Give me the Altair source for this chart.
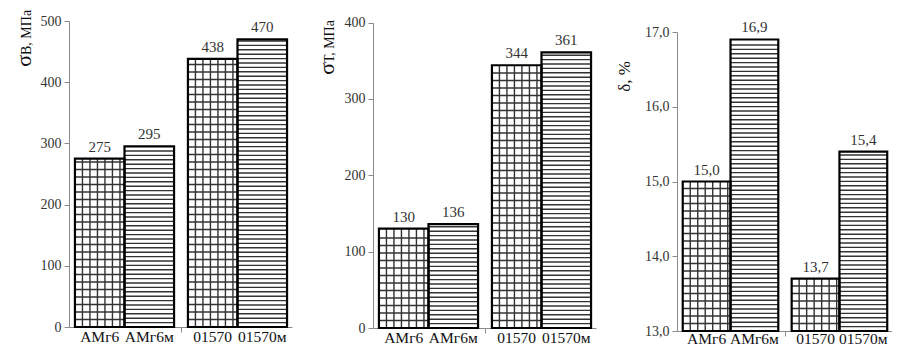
import altair as alt
import pandas as pd
import numpy as np

categories = ["АМг6", "АМг6м", "01570", "01570м"]
patterns = ["grid", "lines", "grid", "lines"]
sigma_b = [275, 295, 438, 470]
sigma_t = [130, 136, 344, 361]
delta = [15.0, 16.9, 13.7, 15.4]

FONT = "Liberation Serif, Times New Roman, DejaVu Serif, serif"
AXIS_GREY = "#8a8a8a"
LEAD, GAP, TAIL = 0.12, 0.28, 0.1
XMAX = 4 + LEAD + GAP + TAIL


def comma1(v):
    return f"{v:.1f}".replace(".", ",")


def make_panel(values, ymin, ymax, ystep, width, height, top, fmt, label_expr,
               title_parts, title_x, title_anchor, cat_dy):
    starts = [i + LEAD + (GAP if i >= 2 else 0) for i in range(4)]
    bars = pd.DataFrame({
        "cat": categories, "value": values, "pattern": patterns,
        "x0": starts, "x1": [s + 1 for s in starts],
        "mid": [s + 0.5 for s in starts],
        "base": [ymin] * 4,
        "label": [fmt(v) for v in values],
    })
    px_y = (height - top) / (ymax - ymin)
    px_x = width / XMAX
    rows = []
    for s, v, p in zip(starts, values, patterns):
        hs = (7.5 if p == "grid" else 4.4) / px_y
        for yy in np.arange(ymin + hs, v - hs * 0.3, hs):
            rows.append(dict(x0=s, x1=s + 1, y0=yy, y1=yy))
        if p == "grid":
            vs = 7.5 / px_x
            for xx in np.arange(s + vs, s + 1 - vs * 0.3, vs):
                rows.append(dict(x0=xx, x1=xx, y0=ymin, y1=v))
    hatch = pd.DataFrame(rows)

    gap_mid = (starts[1] + 1 + starts[2]) / 2
    xscale = alt.Scale(domain=[0, XMAX], nice=False, zero=False)
    yscale = alt.Scale(domain=[ymin, ymax], nice=False, zero=False,
                       range=[height, top])
    xaxis = alt.Axis(values=[gap_mid], labels=False, title=None, grid=False,
                     domainColor=AXIS_GREY, tickColor=AXIS_GREY, tickSize=5)
    yaxis = alt.Axis(values=list(np.arange(ymin, ymax + ystep / 2, ystep)),
                     labelExpr=label_expr, title=None, grid=False,
                     domainColor=AXIS_GREY, tickColor=AXIS_GREY, tickSize=5,
                     labelFont=FONT, labelFontSize=14, labelColor="#333333",
                     labelPadding=3)

    base = alt.Chart(bars)
    fill = base.mark_rect(fill="white").encode(
        x=alt.X("x0:Q", scale=xscale, axis=xaxis), x2="x1:Q",
        y=alt.Y("base:Q", scale=yscale, axis=yaxis), y2="value:Q")
    lines = alt.Chart(hatch).mark_rule(color="#333333", strokeWidth=1.4).encode(
        x=alt.X("x0:Q", scale=xscale), x2="x1:Q",
        y=alt.Y("y0:Q", scale=yscale), y2="y1:Q")
    outline = base.mark_rect(fill="transparent", stroke="black", strokeWidth=2.2).encode(
        x=alt.X("x0:Q", scale=xscale), x2="x1:Q",
        y=alt.Y("base:Q", scale=yscale), y2="value:Q")
    vlabels = base.mark_text(font=FONT, fontSize=15, color="#333333",
                             baseline="bottom", dy=-4).encode(
        x=alt.X("mid:Q", scale=xscale), y=alt.Y("value:Q", scale=yscale),
        text="label:N")
    clabels = base.mark_text(font=FONT, fontSize=15.5, color="#111111",
                             baseline="top").encode(
        x=alt.X("mid:Q", scale=xscale), y=alt.value(height + cat_dy),
        text="cat:N")
    layers = [fill, lines, outline, vlabels, clabels]
    (t1, s1), (t2, s2) = title_parts
    layers.append(alt.Chart(bars).transform_filter("datum.cat == 'АМг6'").mark_text(
        text=t1, font=FONT, fontSize=s1, angle=270, align="right",
        baseline="alphabetic", color="#111111").encode(
        x=alt.value(title_x), y=alt.value(title_anchor)))
    if t2:
        layers.append(alt.Chart(bars).transform_filter("datum.cat == 'АМг6'").mark_text(
            text=t2, font=FONT, fontSize=s2, angle=270, align="left",
            baseline="alphabetic", color="#111111").encode(
            x=alt.value(title_x), y=alt.value(title_anchor)))
    return alt.layer(*layers).properties(width=width, height=height)


p1 = make_panel(sigma_b, 0, 500, 100, 223, 306, 0, lambda v: str(v),
                "format(datum.value, 'd')",
                [("σ", 22), ("В, МПа", 14)], -38, 34, 3)
p2 = make_panel(sigma_t, 0, 400, 100, 223, 307, 1.5, lambda v: str(v),
                "format(datum.value, 'd')",
                [("σ", 22), ("Т, МПа", 14)], -39, 42, 3)
p3 = make_panel(delta, 13, 17, 1, 215, 310, 11, comma1,
                "replace(format(datum.value, '.1f'), '.', ',')",
                [("δ, %", 17), ("", 0)], -47, 40, 1)

chart = alt.hconcat(alt.hconcat(p1, p2, spacing=24), p3, spacing=20).configure_view(
    stroke=None).properties(
    padding={"left": 5, "top": 1, "right": 0, "bottom": 0})

chart.save("out.html", embed_options={"renderer": "svg", "actions": False})
